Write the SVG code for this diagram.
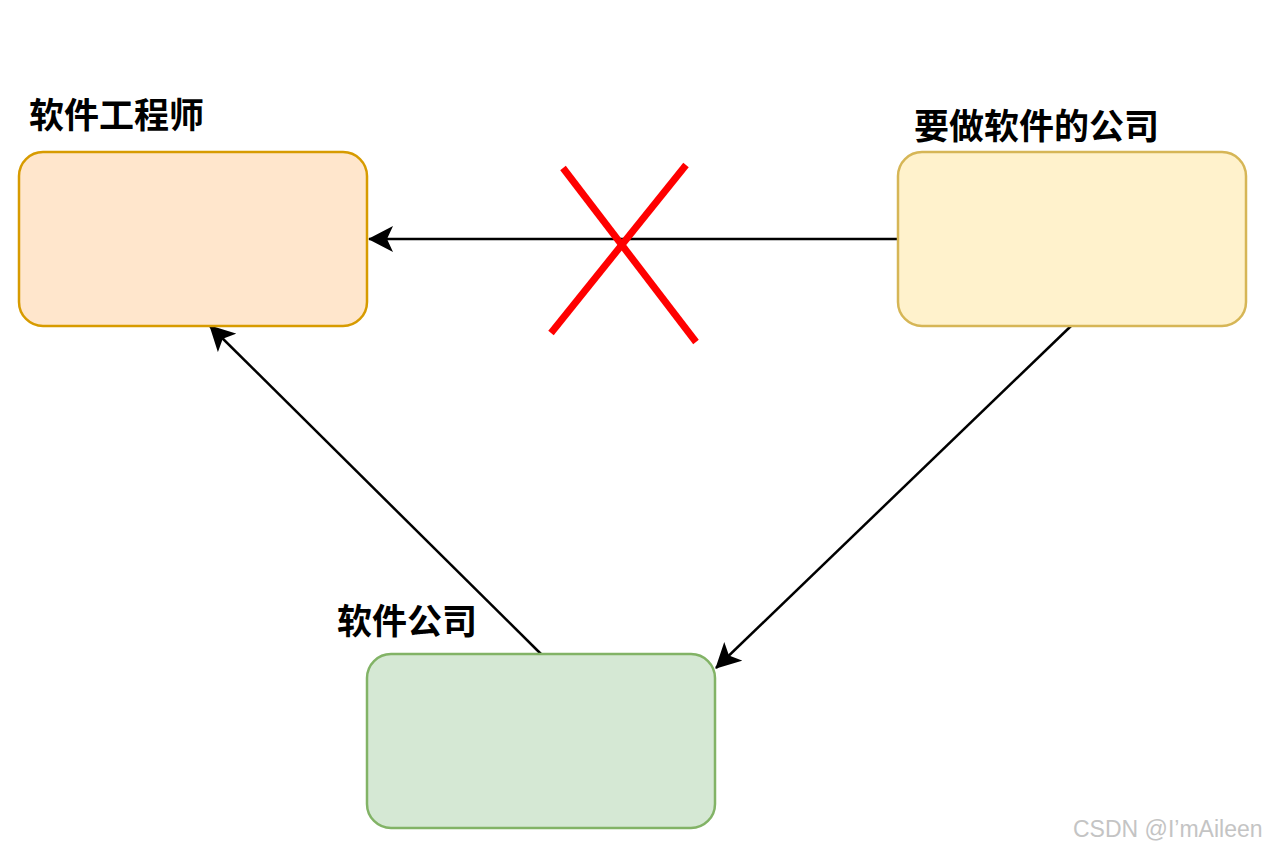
<svg xmlns="http://www.w3.org/2000/svg" width="1267" height="850" viewBox="0 0 1267 850">
<style>
.box{stroke-width:2.5}
.lbl{font-family:"Noto Sans CJK SC","Noto Sans",sans-serif;font-weight:bold;font-size:35px;fill:#000}
.edge{stroke:#000;stroke-width:2.5;fill:none}
.x{stroke:#ff0000;stroke-width:7}
</style>
<defs>
<marker id="ah" viewBox="0 0 25 26" refX="24" refY="13" markerWidth="25" markerHeight="26" markerUnits="userSpaceOnUse" orient="auto">
<path d="M0,0 L25,13 L0,26 L6,13 Z" fill="#000"/>
</marker>
</defs>
<rect width="1267" height="850" fill="#fff"/>
<g id="connectors">
<line class="edge" x1="897" y1="239" x2="369" y2="239" marker-end="url(#ah)"/>
<line class="edge" x1="541" y1="654" x2="210" y2="326" marker-end="url(#ah)"/>
<line class="edge" x1="1071" y1="326" x2="716" y2="668" marker-end="url(#ah)"/>
</g>
<g id="engineer">
<rect class="box" x="19" y="152" width="348" height="174" rx="24" fill="#ffe6cc" stroke="#d79b00"/>
<text class="lbl" x="29" y="128">软件工程师</text>
</g>
<g id="client">
<rect class="box" x="898" y="152" width="348" height="174" rx="24" fill="#fff2cc" stroke="#d6b656"/>
<text class="lbl" x="914" y="139">要做软件的公司</text>
</g>
<g id="company">
<rect class="box" x="367" y="654" width="348" height="174" rx="24" fill="#d5e8d4" stroke="#82b366"/>
<text class="lbl" x="337" y="634">软件公司</text>
</g>
<g id="cross">
<line class="x" x1="563" y1="168" x2="696" y2="342"/>
<line class="x" x1="686" y1="165" x2="551" y2="333"/>
</g>
<text x="1073" y="837" font-family="Liberation Sans,Arial,sans-serif" font-size="23" fill="#c4c4c4">CSDN @I’mAileen</text>
</svg>
